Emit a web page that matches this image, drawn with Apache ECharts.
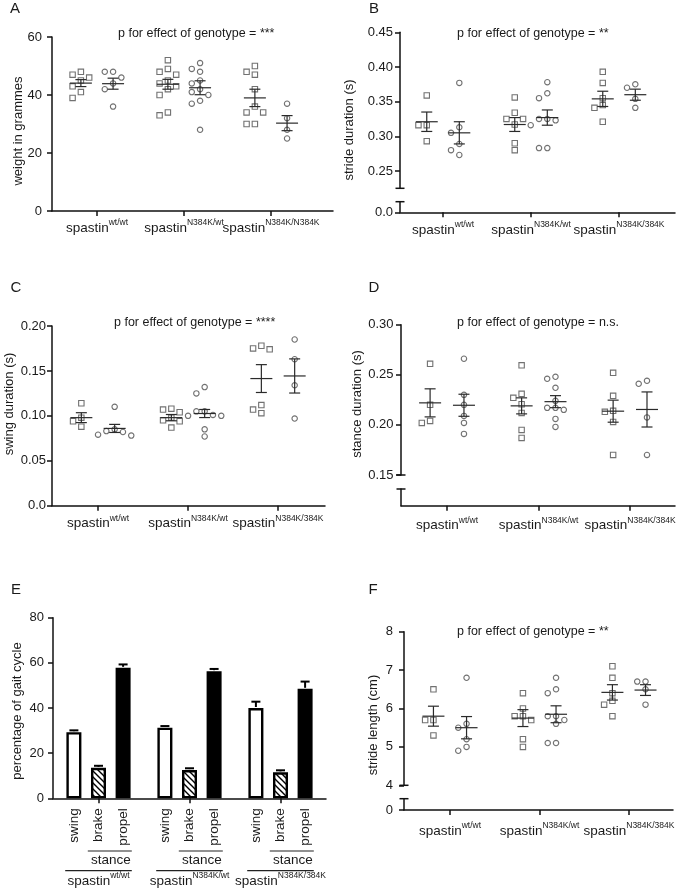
<!DOCTYPE html>
<html><head><meta charset="utf-8">
<script src="https://cdn.jsdelivr.net/npm/echarts@6/dist/echarts.min.js"></script>
<style>html,body{margin:0;padding:0;background:#fff}#c{width:679px;height:891px}</style>
</head><body><div id="c"></div>
<script>
// ---------------- DATA ----------------
const genotypes = ['wt/wt', 'N384K/wt', 'N384K/384K'];
const genotypesA = ['wt/wt', 'N384K/wt', 'N384K/N384K'];
const phases = ['swing', 'brake', 'propel'];

// A: weight in grammes
const weightSquares = [[48,47,46,45,43,41,39],[52,49,48,47,45,44,43,42,40,34,33],[50,48,47,42,36,34,34,30,30]];
const weightCircles = [[48,48,46,44,42,36],[51,49,48,45,44,42,41,40,38,37,28],[37,32,28,25]];
const weightSqMean = [44.1,43.7,39.0], weightSqSem = [1.2,1.7,3.0];
const weightCiMean = [43.9,42.5,30.3], weightCiSem = [1.9,2.4,2.6];

// B: stride duration (s)
const strideDurSquares = [[0.359,0.316,0.316,0.293],[0.356,0.334,0.325,0.325,0.317,0.290,0.280],[0.393,0.377,0.355,0.345,0.341,0.321]];
const strideDurCircles = [[0.377,0.313,0.305,0.289,0.280,0.273],[0.378,0.362,0.355,0.325,0.325,0.323,0.316,0.283,0.283],[0.375,0.370,0.354,0.341]];
const strideDurSqMean = [0.321,0.317,0.354], strideDurSqSem = [0.014,0.010,0.011];
const strideDurCiMean = [0.305,0.327,0.360], strideDurCiSem = [0.016,0.011,0.008];

// C: swing duration (s)
const swingSquares = [[0.114,0.098,0.094,0.088],[0.108,0.107,0.104,0.098,0.095,0.094,0.087],[0.178,0.175,0.174,0.112,0.107,0.103]];
const swingCircles = [[0.110,0.085,0.083,0.082,0.079,0.078],[0.132,0.125,0.105,0.105,0.101,0.100,0.100,0.085,0.077],[0.185,0.163,0.134,0.097]];
const swingSqMean = [0.098,0.098,0.1415], swingSqSem = [0.0055,0.0035,0.0155];
const swingCiMean = [0.086,0.1026,0.1444], swingCiSem = [0.0045,0.0045,0.019];

// D: stance duration (s)
const stanceSquares = [[0.261,0.220,0.204,0.202],[0.2595,0.231,0.227,0.2206,0.212,0.195,0.187],[0.252,0.229,0.214,0.213,0.203,0.170]];
const stanceCircles = [[0.266,0.230,0.220,0.209,0.202,0.191],[0.248,0.246,0.237,0.224,0.217,0.217,0.215,0.206,0.198],[0.244,0.241,0.2075,0.170]];
const stanceSqMean = [0.222,0.219,0.2137], stanceSqSem = [0.014,0.008,0.011];
const stanceCiMean = [0.2196,0.2232,0.2154], stanceCiSem = [0.011,0.006,0.0175];

// E: percentage of gait cycle
const swingPct = [29.3,31.3,40.0], swingPctErr = [0.8,0.7,2.8];
const brakePct = [13.5,12.5,11.5], brakePctErr = [0.9,0.8,0.9];
const propelPct = [57.8,56.3,48.5], propelPctErr = [1.5,1.0,3.2];

// F: stride length (cm)
const strideLenSquares = [[6.5,5.7,5.7,5.3],[6.4,6.0,5.8,5.8,5.7,5.2,5.0],[7.1,6.8,6.4,6.2,6.1,5.8]];
const strideLenCircles = [[6.8,5.6,5.5,5.2,5.0,4.9],[6.8,6.5,6.4,5.8,5.8,5.7,5.6,5.1,5.1],[6.7,6.7,6.5,6.1]];
const strideLenSqMean = [5.8,5.75,6.42], strideLenSqSem = [0.26,0.22,0.2];
const strideLenCiMean = [5.5,5.85,6.48], strideLenCiSem = [0.29,0.22,0.14];

// ---------------- LAYOUT / STYLE ----------------
const FONT = '"Liberation Sans", Arial, Helvetica, sans-serif';
const TXT = '#1a1a1a', AX = '#111', MK = '#4d4d4d', ML = '#2a2a2a';
const G = {
  A:  {left:52,  top:37,    width:281, height:174},
  B:  {left:400, top:32.3,  width:275, height:156},
  Bs: {left:400, top:201.7, width:275, height:10.6},
  C:  {left:52,  top:326,   width:273, height:179.7},
  D:  {left:401, top:324.7, width:274, height:150.3},
  Ds: {left:401, top:489,   width:274, height:16.7},
  E:  {left:53,  top:617.7, width:273, height:180.6},
  F:  {left:404, top:631.7, width:269, height:153.6},
  Fs: {left:404, top:798.7, width:269, height:11.3}
};
const ORDER = ['A','B','Bs','C','D','Ds','E','F','Fs'];
const GI = {}; ORDER.forEach((k,i)=>GI[k]=i);
const XR = {A:[0.483,3.713], B:[0.511,3.636], C:[0.489,3.522], D:[0.497,3.491], F:[0.486,3.492]};
const YR = {A:[0,60], B:[0.225,0.45], C:[0,0.2], D:[0.15,0.30], F:[4,8]};
const SUB = 0.185;
const STEP = 8.3, DIST = 6.6;

const RICH = {
  a: {fontSize:13.5, fontFamily:FONT, color:TXT, lineHeight:20},
  b: {fontSize:8.5, fontFamily:FONT, color:TXT, lineHeight:10, verticalAlign:'top'}
};
const supLabel = list => (v => '{a|spastin}{b|' + list[Math.round(v)-1] + '}');

function lineStyle(){ return {color:AX, width:1.5}; }

function xScatter(k, gridKey, show, labels, margin, labelValues, extra){
  const r = XR[k];
  return Object.assign({type:'value', gridIndex:GI[gridKey], min:r[0], max:r[1], show:show, position:'bottom',
    axisLine:{show:true, onZero:false, lineStyle:lineStyle()},
    axisTick:{show:true, length:5, customValues:[1,2,3], lineStyle:lineStyle()},
    axisLabel:{show:true, customValues:labelValues||[1,2,3], margin:margin, hideOverlap:false,
               formatter: supLabel(labels), rich:RICH},
    splitLine:{show:false}}, extra||{});
}
function yVal(gridKey, o){
  return Object.assign({type:'value', gridIndex:GI[gridKey],
    axisLine:{show:true, onZero:false, lineStyle:lineStyle()},
    axisTick:{show:true, length:5, lineStyle:lineStyle()},
    splitLine:{show:false}}, o, {
    axisLabel:Object.assign({color:TXT, fontSize:13, fontFamily:FONT, hideOverlap:false}, o.axisLabel||{})});
}

function swarm(values, pxX, pxY){
  const idx = values.map((v,i)=>i).sort((a,b)=>values[b]-values[a]);
  const placed = [], off = new Array(values.length).fill(0);
  idx.forEach(i=>{
    const y = values[i]*pxY;
    for (let k=0;k<30;k++){
      const slot = k===0 ? 0 : (k%2 ? -Math.ceil(k/2) : Math.ceil(k/2));
      const x = slot*STEP;
      if (placed.every(p=>Math.hypot(p[0]-x,p[1]-y)>=DIST)){ placed.push([x,y]); off[i]=x/pxX; break; }
    }
  });
  return off;
}
function scatterSeries(k, groups, sign, symbol){
  const g = G[k], r = XR[k], yr = YR[k];
  const pxX = g.width/(r[1]-r[0]), pxY = g.height/(yr[1]-yr[0]);
  const data = [];
  groups.forEach((vals, gi)=>{
    const off = swarm(vals, pxX, pxY);
    vals.forEach((v,i)=>data.push([gi+1+sign*SUB+off[i], v]));
  });
  return {type:'scatter', xAxisIndex:GI[k], yAxisIndex:GI[k], symbol:symbol, symbolSize:5.4,
    itemStyle:{color:'rgba(0,0,0,0)', borderColor:MK, borderWidth:1.1}, data:data, silent:true, z:3};
}
function meanSemSeries(k, means, sems, sign){
  return {type:'custom', xAxisIndex:GI[k], yAxisIndex:GI[k], silent:true, z:5,
    data: means.map((m,i)=>[i+1+sign*SUB, m, sems[i]]),
    renderItem:(params, api)=>{
      const x=api.value(0), m=api.value(1), s=api.value(2);
      const c=api.coord([x,m]), t=api.coord([x,m+s]), b=api.coord([x,m-s]);
      const st={stroke:ML, lineWidth:1.2};
      return {type:'group', children:[
        {type:'line', shape:{x1:c[0]-11,y1:c[1],x2:c[0]+11,y2:c[1]}, style:st},
        {type:'line', shape:{x1:c[0],y1:t[1],x2:c[0],y2:b[1]}, style:st},
        {type:'line', shape:{x1:c[0]-5.5,y1:t[1],x2:c[0]+5.5,y2:t[1]}, style:st},
        {type:'line', shape:{x1:c[0]-5.5,y1:b[1],x2:c[0]+5.5,y2:b[1]}, style:st}
      ]};
    }};
}
function panelSeries(k, sq, ci, sqM, sqS, ciM, ciS){
  return [scatterSeries(k, sq, -1, 'rect'), scatterSeries(k, ci, 1, 'circle'),
          meanSemSeries(k, sqM, sqS, -1), meanSemSeries(k, ciM, ciS, 1)];
}

const hatch = document.createElement('canvas');
hatch.width = 6; hatch.height = 6;
(function(){
  const c = hatch.getContext('2d');
  c.fillStyle = '#fff'; c.fillRect(0,0,6,6);
  c.strokeStyle = '#000'; c.lineWidth = 1.4;
  c.beginPath();
  c.moveTo(-1,-1); c.lineTo(7,7);
  c.moveTo(-4,2); c.lineTo(4,10);
  c.moveTo(2,-4); c.lineTo(10,4);
  c.stroke();
})();

const BAR_W = 15, BAR_STEP = 24.6;

// ---------------- AXES ----------------
const xAxes = [
  xScatter('A','A',true,genotypesA,7,[1,2]),
  xScatter('B','B',false,genotypes,8),
  xScatter('B','Bs',true,genotypes,8),
  xScatter('C','C',true,genotypes,8),
  xScatter('D','D',false,genotypes,10),
  xScatter('D','Ds',true,genotypes,10),
  {type:'category', gridIndex:GI.E, data:genotypes,
    axisLine:{show:true, lineStyle:lineStyle()},
    axisTick:{show:true, alignWithLabel:true, length:5, lineStyle:lineStyle()},
    axisLabel:{margin:73, interval:0, hideOverlap:false, formatter: v => '{a|spastin}{b|' + v + '}', rich:RICH},
    splitLine:{show:false}},
  xScatter('F','F',false,genotypes,11),
  xScatter('F','Fs',true,genotypes,11),
  // extra label-only axis on panel A for the long third label
  xScatter('A','A',true,genotypesA,7,[3],{axisLine:{show:false}, axisTick:{show:false}})
];
const two = v => v.toFixed(2);
const yAxes = [
  yVal('A', {min:0, max:60, interval:20, axisLabel:{margin:10}}),
  yVal('B', {min:0.225, max:0.45, axisTick:{show:true,length:5,customValues:[0.25,0.30,0.35,0.40,0.45],lineStyle:lineStyle()},
             axisLabel:{margin:7, customValues:[0.25,0.30,0.35,0.40,0.45], formatter:two}}),
  yVal('Bs', {min:0, max:1, axisTick:{show:true,length:5,customValues:[0],lineStyle:lineStyle()},
             axisLabel:{margin:7, customValues:[0], formatter:()=>'0.0'}}),
  yVal('C', {min:0, max:0.2, interval:0.05, axisLabel:{margin:6, formatter:v=>v===0?'0.0':two(v)}}),
  yVal('D', {min:0.15, max:0.30, axisTick:{show:true,length:5,customValues:[0.15,0.20,0.25,0.30],lineStyle:lineStyle()},
             axisLabel:{margin:7.5, customValues:[0.15,0.20,0.25,0.30], formatter:two}}),
  yVal('Ds', {min:0, max:1, axisTick:{show:false}, axisLabel:{show:false}}),
  yVal('E', {min:0, max:80, interval:20, axisLabel:{margin:9}}),
  yVal('F', {min:4, max:8, interval:1, axisLabel:{margin:11}}),
  yVal('Fs', {min:0, max:1, axisTick:{show:true,length:5,customValues:[0],lineStyle:lineStyle()},
             axisLabel:{margin:11, customValues:[0], formatter:()=>'0'}})
];

// ---------------- SERIES ----------------
const series = [].concat(
  panelSeries('A', weightSquares, weightCircles, weightSqMean, weightSqSem, weightCiMean, weightCiSem),
  panelSeries('B', strideDurSquares, strideDurCircles, strideDurSqMean, strideDurSqSem, strideDurCiMean, strideDurCiSem),
  panelSeries('C', swingSquares, swingCircles, swingSqMean, swingSqSem, swingCiMean, swingCiSem),
  panelSeries('D', stanceSquares, stanceCircles, stanceSqMean, stanceSqSem, stanceCiMean, stanceCiSem),
  panelSeries('F', strideLenSquares, strideLenCircles, strideLenSqMean, strideLenSqSem, strideLenCiMean, strideLenCiSem)
);
const barFill = ['#ffffff', {image:hatch, repeat:'repeat'}, '#000000'];
const pct = [swingPct, brakePct, propelPct], pctErr = [swingPctErr, brakePctErr, propelPctErr];
phases.forEach((p,si)=>{
  series.push({type:'bar', name:p, xAxisIndex:GI.E, yAxisIndex:GI.E, data:pct[si], barWidth:BAR_W,
    barGap:((BAR_STEP-BAR_W)/BAR_W*100).toFixed(0)+'%', silent:true,
    itemStyle:{color:barFill[si], borderColor:'#000', borderWidth:2.4}});
});
const errData = [];
phases.forEach((p,si)=>pct[si].forEach((v,ci)=>errData.push([ci, si, v, pctErr[si][ci]])));
series.push({type:'custom', xAxisIndex:GI.E, yAxisIndex:GI.E, silent:true, z:6, encode:{x:0, y:2},
  data: errData,
  renderItem:(params, api)=>{
    const cat=api.value(0), si=api.value(1), v=api.value(2), e=api.value(3);
    const a=api.coord([cat,v]), b=api.coord([cat,v+e]);
    const x=a[0]+(si-1)*BAR_STEP, st={stroke:'#000', lineWidth:2};
    return {type:'group', children:[
      {type:'line', shape:{x1:x,y1:a[1]-1,x2:x,y2:b[1]}, style:st},
      {type:'line', shape:{x1:x-4.5,y1:b[1],x2:x+4.5,y2:b[1]}, style:st}
    ]};
  }});
series.push({type:'custom', xAxisIndex:GI.E, yAxisIndex:GI.E, silent:true, z:6, encode:{x:0, y:1},
  data: genotypes.map((g,i)=>[i,0]),
  renderItem:(params, api)=>{
    const c=api.coord([api.value(0),0]);
    const hb = (BAR_W+2.4)/2, st={stroke:'#222', lineWidth:1.2};
    const kids = phases.map((p,j)=>({type:'text', x:c[0]+(j-1)*BAR_STEP, y:c[1]+10, rotation:Math.PI/2,
      style:{text:p, fill:TXT, font:'13.5px '+FONT, align:'right', verticalAlign:'middle'}}));
    kids.push({type:'line', shape:{x1:c[0]-hb-2, y1:c[1]+52.7, x2:c[0]+BAR_STEP+hb, y2:c[1]+52.7}, style:st});
    kids.push({type:'text', x:c[0]+BAR_STEP/2, y:c[1]+62, style:{text:'stance', fill:TXT, font:'13.5px '+FONT, align:'center', verticalAlign:'middle'}});
    kids.push({type:'line', shape:{x1:c[0]-BAR_STEP-hb, y1:c[1]+72.4, x2:c[0]+BAR_STEP+hb, y2:c[1]+72.4}, style:st});
    return {type:'group', children:kids};
  }});

// ---------------- TEXT DECORATIONS ----------------
const graphics = [];
[['A',15,9],['B',374,9],['C',16,288],['D',374,288],['E',16,590],['F',373,590]].forEach(l=>{
  graphics.push({type:'text', x:l[1], y:l[2], style:{text:l[0], fill:TXT, font:'15px '+FONT, align:'center', verticalAlign:'middle'}});
});
[['p for effect of genotype = ***',118,34],['p for effect of genotype = **',457,34],
 ['p for effect of genotype = ****',114,322.5],['p for effect of genotype = n.s.',457,323],
 ['p for effect of genotype = **',457,632]].forEach(t=>{
  graphics.push({type:'text', x:t[1], y:t[2], style:{text:t[0], fill:TXT, font:'12.5px '+FONT, align:'left', verticalAlign:'middle'}});
});
[['weight in grammes',18,131],['stride duration (s)',349,130],['swing duration (s)',9,404],
 ['stance duration (s)',357,404],['percentage of gait cycle',17,711],['stride length (cm)',373,725]].forEach(t=>{
  graphics.push({type:'text', x:t[1], y:t[2], rotation:Math.PI/2, style:{text:t[0], fill:TXT, font:'13px '+FONT, align:'center', verticalAlign:'middle'}});
});
[['B','Bs'],['D','Ds'],['F','Fs']].forEach(p=>{
  const m=G[p[0]], s=G[p[1]];
  [m.top+m.height, s.top].forEach(y=>graphics.push({type:'line', shape:{x1:m.left-4.5,y1:y,x2:m.left+4.5,y2:y}, style:{stroke:AX, lineWidth:1.5}}));
});

const chart = echarts.init(document.getElementById('c'), null, {renderer:'canvas'});
chart.setOption({
  animation:false,
  backgroundColor:'#fff',
  textStyle:{fontFamily:FONT},
  grid: ORDER.map(k=>({left:G[k].left, top:G[k].top, width:G[k].width, height:G[k].height, containLabel:false, outerBoundsMode:'none'})),
  xAxis:xAxes, yAxis:yAxes, series:series, graphic:graphics, tooltip:{show:false}
});
</script></body></html>
